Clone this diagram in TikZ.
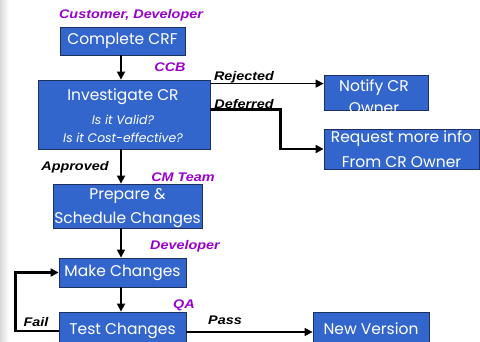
\documentclass[tikz,border=0pt]{standalone}
\usepackage{fontspec}
\setmainfont{Poppins}
\newfontfamily\lblfont[FakeStretch=1.15]{Liberation Sans}
\usetikzlibrary{arrows.meta,calc}
\definecolor{boxblue}{HTML}{3366CC}
\definecolor{boxedge}{HTML}{1F2F5F}
\definecolor{rolepurple}{HTML}{9900CC}
\tikzset{
  stepbox/.style={rectangle,draw=boxedge,line width=0.8pt,fill=boxblue,text=white,inner sep=0pt,align=center,font=\fontsize{15.5}{23}\selectfont},
  boxtext/.style={text=white,inner sep=0pt,align=center,font=\fontsize{15.5}{22}\selectfont},
  subtext/.style={text=white,inner sep=0pt,font=\itshape\fontsize{12.4}{15}\selectfont},
  role/.style={text=rolepurple,font=\lblfont\bfseries\itshape\fontsize{12.5}{14}\selectfont,inner sep=0pt},
  edgelbl/.style={text=black,font=\lblfont\bfseries\itshape\fontsize{12.5}{14}\selectfont,inner sep=0pt},
  flow/.style={line width=1.3pt,-{Triangle[length=8pt,width=8pt]}},
  thickflow/.style={line width=2.6pt,-{Triangle[length=8pt,width=8pt]}},
}
\begin{document}
\begin{tikzpicture}[x=1pt,y=-1pt]
\useasboundingbox (0,0) rectangle (480,341);
\shade[left color=gray!30,right color=white] (0,0) rectangle (9,341);
\node[stepbox,minimum width=125pt,minimum height=28pt] (crf) at (122.5,41) {Complete CRF};
\node[stepbox,minimum width=172pt,minimum height=69pt] (inv) at (124,114.5) {};
\node[boxtext] (invt1) at (123,97) {Investigate CR};
\node[subtext] (invt2) at (123,119.5) {Is it Valid?};
\node[subtext] (invt3) at (123,138) {Is it Cost-effective?};
\node[stepbox,minimum width=104pt,minimum height=35pt] (notify) at (376,92.5) {};
\node[boxtext] (notifytxt) at (374,96.5) {Notify CR\\Owner};
\node[stepbox,minimum width=155pt,minimum height=40pt] (req) at (401.5,149) {Request more info\\[1.5pt]From CR Owner};
\node[stepbox,minimum width=149pt,minimum height=44pt] (prep) at (127.5,206) {};
\node[boxtext] (prept) at (127.5,208) {Prepare \&\\[2.5pt]Schedule Changes};
\node[stepbox,minimum width=127pt,minimum height=29pt] (make) at (122.5,272.5) {Make Changes};
\node[stepbox,minimum width=127pt,minimum height=33pt,text depth=0pt] (test) at (122.5,328.5) {Test Changes};
\node[stepbox,minimum width=116pt,minimum height=33pt] (nv) at (371,328.5) {New Version};

\node[role] (r1) at (131,15) {Customer, Developer};
\node[role] (r2) at (170,67) {CCB};
\node[role] (r3) at (183,177) {CM Team};
\node[role] (r4) at (185,246) {Developer};
\node[role] (r5) at (184,305) {QA};

\node[edgelbl] (l1) at (244,77) {Rejected};
\node[edgelbl] (l2) at (244,104) {Deferred};
\node[edgelbl] (l3) at (75,167) {Approved};
\node[edgelbl] (l4) at (36,322) {Fail};
\node[edgelbl] (l5) at (225,320) {Pass};

\draw[flow] ([xshift=-1.5pt]crf.south) -- ([xshift=-1.5pt]crf.south |- inv.north);
\draw[flow] ([xshift=-3pt]inv.south) -- ([xshift=-3pt]inv.south |- prep.north);
\draw[flow] ([xshift=-6.5pt]prep.south) -- ([xshift=-6.5pt]prep.south |- make.north);
\draw[flow] ([xshift=-1.5pt]make.south) -- ([xshift=-1.5pt]make.south |- test.north);
\draw[flow] ([yshift=-4pt]inv.north east) -- ([yshift=-4pt]inv.north east -| notify.west);
\draw[thickflow] ([yshift=-30pt]inv.north east) -- ++(70,0) |- (req.west);
\draw[thickflow] ([yshift=-2.5pt]test.west) -- ++(-43,0) |- (make.west);
\draw[flow] ([yshift=-3.5pt]test.east) -- ([yshift=-3.5pt]test.east -| nv.west);
\end{tikzpicture}
\end{document}
